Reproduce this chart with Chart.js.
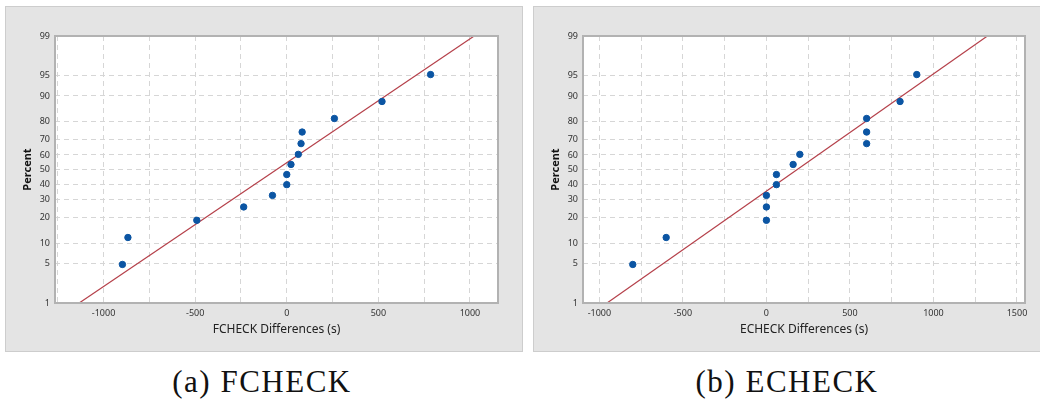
<!DOCTYPE html>
<html>
<head>
<meta charset="utf-8">
<script src="https://cdn.jsdelivr.net/npm/chart.js@4.4.1/dist/chart.umd.min.js"></script>
<style>
    body { margin: 0; background: #fff; width: 1040px; height: 401px; overflow: hidden; position: relative; }
    .panel { position: absolute; top: 6px; height: 344px; background: #e4e4e4; border: 1px solid #cdcdcd; }
    .panel canvas { display: block; }
    .caption { position: absolute; top: 366px; text-align: center; font-family: "Liberation Serif", serif; font-size: 31px; letter-spacing: 1.5px; line-height: 31px; color: #111; }
</style>
</head>
<body>
<div class="panel" style="left:5px; width:516px;"><canvas id="fcheckChart" width="516" height="344"></canvas></div>
<div class="panel" style="left:533px; width:520px;"><canvas id="echeckChart" width="506" height="344"></canvas></div>
<div class="caption" style="left:0; width:524px;">(a) FCHECK</div>
<div class="caption" style="left:533px; width:508px;">(b) ECHECK</div>
<script>
// Data
const percentTicks = [1, 5, 10, 20, 30, 40, 50, 60, 70, 80, 90, 95, 99];
const rankPercent = [4.9, 11.8, 18.8, 25.7, 32.6, 39.6, 46.5, 53.5, 60.4, 67.4, 74.3, 81.3, 88.2, 95.1];
const fcheckDiff = [-897, -867, -491, -235, -78, 0, 0, 23, 63, 78, 84, 260, 520, 785];
const echeckDiff = [-800, -600, 0, 0, 0, 60, 60, 160, 200, 600, 600, 600, 800, 900];
const fitPercent = [1, 99];
const fcheckFit = [-1133, 1023];
const echeckFit = [-954, 1323];

// Inverse normal CDF (Acklam) for the probability axis
function probit(p) {
    const a = [-3.969683028665376e+01, 2.209460984245205e+02, -2.759285104469687e+02, 1.383577518672690e+02, -3.066479806614716e+01, 2.506628277459239e+00];
    const b = [-5.447609879822406e+01, 1.615858368580409e+02, -1.556989798598866e+02, 6.680131188771972e+01, -1.328068155288572e+01];
    const c = [-7.784894002430293e-03, -3.223964580411365e-01, -2.400758277161838e+00, -2.549671010229528e+00, 4.374664141464968e+00, 2.938163982698783e+00];
    const d = [7.784695709041462e-03, 3.224671290700398e-01, 2.445134137142996e+00, 3.754408661907416e+00];
    const pl = 0.02425, ph = 1 - pl;
    let q, r;
    if (p < pl) {
        q = Math.sqrt(-2 * Math.log(p));
        return (((((c[0]*q+c[1])*q+c[2])*q+c[3])*q+c[4])*q+c[5]) / ((((d[0]*q+d[1])*q+d[2])*q+d[3])*q+1);
    }
    if (p > ph) {
        q = Math.sqrt(-2 * Math.log(1 - p));
        return -(((((c[0]*q+c[1])*q+c[2])*q+c[3])*q+c[4])*q+c[5]) / ((((d[0]*q+d[1])*q+d[2])*q+d[3])*q+1);
    }
    q = p - 0.5;
    r = q * q;
    return (((((a[0]*r+a[1])*r+a[2])*r+a[3])*r+a[4])*r+a[5])*q / (((((b[0]*r+b[1])*r+b[2])*r+b[3])*r+b[4])*r+1);
}

// White plot area + grey frame
const frame = {
    id: 'frame',
    beforeDraw(chart) {
        const { ctx, chartArea: a } = chart;
        ctx.save();
        ctx.fillStyle = '#ffffff';
        ctx.fillRect(a.left, a.top, a.right - a.left, a.bottom - a.top);
        ctx.restore();
    },
    afterDraw(chart) {
        const { ctx, chartArea: a } = chart;
        ctx.save();
        ctx.strokeStyle = '#b2b2b2';
        ctx.lineWidth = 2;
        ctx.strokeRect(a.left, a.top, a.right - a.left, a.bottom - a.top);
        ctx.restore();
    }
};

const fontFamily = '"Noto Sans", "Open Sans", sans-serif';

function makeChart(id, diffs, fit, xTitle, xMin, xMax, rightPad) {
    const ctx = document.getElementById(id).getContext('2d');
    return new Chart(ctx, {
        data: {
            datasets: [
                {
                    type: 'scatter',
                    data: diffs.map((x, i) => ({ x: x, y: probit(rankPercent[i] / 100) })),
                    backgroundColor: '#0b55a3',
                    borderColor: '#0b55a3',
                    pointRadius: 3.2,
                    order: 1
                },
                {
                    type: 'line',
                    data: fit.map((x, i) => ({ x: x, y: probit(fitPercent[i] / 100) })),
                    borderColor: '#b5404a',
                    borderWidth: 1.2,
                    pointRadius: 0,
                    fill: false,
                    order: 2
                }
            ]
        },
        options: {
            responsive: false,
            animation: false,
            layout: { padding: { top: 29, right: rightPad, left: 0, bottom: 0 } },
            plugins: {
                legend: { display: false },
                tooltip: { enabled: false }
            },
            scales: {
                x: {
                    type: 'linear',
                    min: xMin,
                    max: xMax,
                    afterFit: s => { s.height = 48; },
                    afterBuildTicks: s => {
                        const ticks = [];
                        for (let v = Math.ceil(xMin / 250) * 250; v <= xMax; v += 250) ticks.push({ value: v });
                        s.ticks = ticks;
                    },
                    grid: { color: '#d6d6d6', lineWidth: 1, drawTicks: false },
                    border: { display: false, dash: [5, 4] },
                    ticks: {
                        autoSkip: false,
                        maxRotation: 0,
                        padding: 5,
                        color: '#333',
                        font: { family: fontFamily, size: 9 },
                        callback: v => (v % 500 === 0 ? v : '')
                    },
                    title: {
                        display: true,
                        text: xTitle,
                        color: '#222',
                        font: { family: fontFamily, size: 12 },
                        padding: { top: 0, bottom: 14 }
                    }
                },
                y: {
                    type: 'linear',
                    min: probit(0.01),
                    max: probit(0.99),
                    afterFit: s => { s.width = 49; },
                    afterBuildTicks: s => {
                        s.ticks = percentTicks.map(p => ({ value: probit(p / 100) }));
                    },
                    grid: { color: '#d6d6d6', lineWidth: 1, drawTicks: false },
                    border: { display: false, dash: [5, 4] },
                    ticks: {
                        autoSkip: false,
                        padding: 5,
                        color: '#333',
                        font: { family: fontFamily, size: 9 },
                        callback: (v, i) => percentTicks[i]
                    },
                    title: {
                        display: true,
                        text: 'Percent',
                        color: '#111',
                        font: { family: fontFamily, size: 11, weight: 'bold' },
                        padding: { top: 15, bottom: 0 }
                    }
                }
            }
        },
        plugins: [frame]
    });
}

makeChart('fcheckChart', fcheckDiff, fcheckFit, 'FCHECK Differences (s)', -1265, 1153, 24);
makeChart('echeckChart', echeckDiff, echeckFit, 'ECHECK Differences (s)', -1098, 1548, 15);
</script>
</body>
</html>
